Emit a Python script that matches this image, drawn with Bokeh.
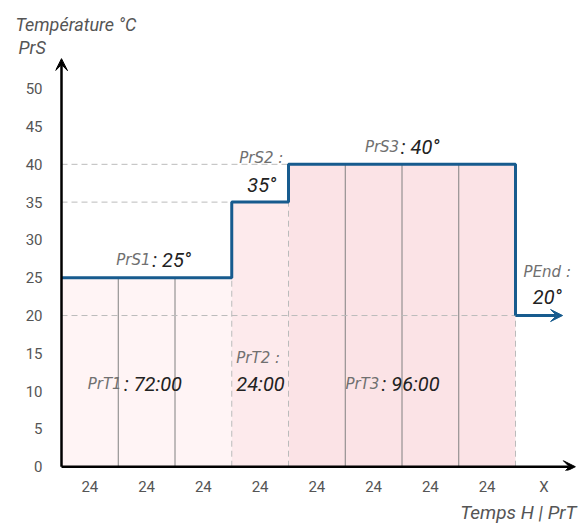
from bokeh.plotting import figure
from bokeh.models import Range1d, Arrow, VeeHead, Label, FixedTicker, Title
from bokeh.embed import file_html
from bokeh.resources import INLINE

# ---- data ----
seg_start = [0, 3, 4, 8]
seg_end = [3, 4, 8, 8.83]
seg_temp = [25, 35, 40, 20]
fill_colors = ["#fff4f5", "#fdeaec", "#fbe3e6"]
solid_x = [1, 2, 5, 6, 7]
solid_top = [25, 25, 40, 40, 40]
dashed_vx = [3, 4, 8]
dashed_vtop = [25, 35, 20]
y_ticks = [0, 5, 10, 15, 20, 25, 30, 35, 40, 45, 50]
x_tick_pos = [0.5, 1.5, 2.5, 3.5, 4.5, 5.5, 6.5, 7.5, 8.5]
x_tick_labels = ["24", "24", "24", "24", "24", "24", "24", "24", "X"]

FONT = "Roboto"
PFONT = "DejaVu Sans"
AXIS_GRAY = "#555555"

W, H = 578, 524
LEFT, RIGHT, TOP, BOTTOM = 55, 2, 57, 54
px_x = 56.75   # pixels per 24h column
px_y = 7.56    # pixels per degree
x0 = -(61 - LEFT) / px_x
x1 = x0 + (W - LEFT - RIGHT) / px_x
y0 = -0.5
y1 = y0 + (H - TOP - BOTTOM) / px_y

p = figure(width=W, height=H, output_backend="svg", toolbar_location=None,
           x_range=Range1d(x0, x1), y_range=Range1d(y0, y1),
           min_border_left=LEFT, min_border_right=RIGHT,
           min_border_top=TOP, min_border_bottom=BOTTOM)
p.outline_line_color = None
p.xgrid.visible = False
p.ygrid.visible = False

# titles (outside the frame)
p.add_layout(Title(text="PrS", align="left", offset=-37, standoff=0,
                   text_font=FONT, text_font_size="18px", text_font_style="italic",
                   text_color=AXIS_GRAY), "above")
p.add_layout(Title(text="Température °C", align="left", offset=-40, standoff=0,
                   text_font=FONT, text_font_size="18px", text_font_style="italic",
                   text_color=AXIS_GRAY), "above")
p.add_layout(Title(text="Temps H | PrT", align="right", offset=0, standoff=0,
                   text_font=FONT, text_font_size="19px", text_font_style="italic",
                   text_color=AXIS_GRAY), "below")

# fills
p.quad(left=seg_start[:3], right=seg_end[:3], bottom=[0, 0, 0], top=seg_temp[:3],
       fill_color=fill_colors, line_color=None)

# solid gray verticals
p.segment(x0=solid_x, y0=[0] * len(solid_x), x1=solid_x, y1=solid_top,
          line_color="#808080", line_width=1)
# dashed verticals
p.segment(x0=dashed_vx, y0=[0] * 3, x1=dashed_vx, y1=dashed_vtop,
          line_color="#bbbbbb", line_width=1, line_dash="6 4")
# dashed horizontals (level from axis to segment start)
p.segment(x0=[0, 0, 0], y0=[35, 40, 20], x1=[3, 4, 8], y1=[35, 40, 20],
          line_color="#bbbbbb", line_width=1, line_dash="6 4")

# step line
xs, ys = [], []
for s, e, t in zip(seg_start[:3], seg_end[:3], seg_temp[:3]):
    xs += [s, e]
    ys += [t, t]
xs.append(seg_start[3])
ys.append(seg_temp[3])
p.line(xs, ys, line_color="#175b8e", line_width=3)
p.add_layout(Arrow(end=VeeHead(size=12, fill_color="#175b8e", line_color="#175b8e"),
                   x_start=seg_start[3], y_start=seg_temp[3], x_end=seg_end[3], y_end=seg_temp[3],
                   line_color="#175b8e", line_width=3))

# axes arrows
p.add_layout(Arrow(end=VeeHead(size=12, fill_color="black", line_color="black"),
                   x_start=0, y_start=0, x_end=x1 - 0.02, y_end=0,
                   line_color="black", line_width=2.5))
p.add_layout(Arrow(end=VeeHead(size=12, fill_color="black", line_color="black"),
                   x_start=0, y_start=0, x_end=0, y_end=y1 - 0.15,
                   line_color="black", line_width=2.5))

# axes (labels only)
for ax in (p.xaxis[0], p.yaxis[0]):
    ax.axis_line_color = None
    ax.major_tick_line_color = None
    ax.minor_tick_line_color = None
    ax.major_label_text_font = FONT
    ax.major_label_text_font_size = "15px"
    ax.major_label_text_color = AXIS_GRAY
p.yaxis.ticker = FixedTicker(ticks=y_ticks)
p.yaxis.major_label_standoff = 7
p.xaxis.ticker = FixedTicker(ticks=x_tick_pos)
p.xaxis.major_label_overrides = {pos: lab for pos, lab in zip(x_tick_pos, x_tick_labels)}
p.xaxis.major_label_standoff = 1


def lab(x, y, text, size, color, align="left", font=FONT):
    p.add_layout(Label(x=x, y=y, text=text, text_font=font, text_font_size=size,
                       text_font_style="italic", text_color=color,
                       text_align=align, text_baseline="middle"))


GRAY = "#707070"
DARK = "#222222"
lab(1.57, 27.3, "PrS1", "15px", GRAY, "right", PFONT)
lab(1.60, 27.3, ": 25°", "20px", DARK)
lab(3.52, 40.8, "PrS2 :", "15px", GRAY, "center", PFONT)
lab(3.53, 37.3, "35°", "20px", DARK, "center")
lab(5.95, 42.3, "PrS3", "15px", GRAY, "right", PFONT)
lab(5.98, 42.3, ": 40°", "20px", DARK)
lab(8.56, 25.8, "PEnd :", "15px", GRAY, "center", PFONT)
lab(8.56, 22.4, "20°", "20px", DARK, "center")

lab(1.06, 11.0, "PrT1", "15px", GRAY, "right", PFONT)
lab(1.10, 11.0, ": 72:00", "20px", DARK)
lab(3.08, 14.4, "PrT2 :", "15px", GRAY, "left", PFONT)
lab(3.08, 11.0, "24:00", "20px", DARK)
lab(5.60, 11.0, "PrT3", "15px", GRAY, "right", PFONT)
lab(5.64, 11.0, ": 96:00", "20px", DARK)

open("out.html", "w").write(file_html(p, INLINE))
